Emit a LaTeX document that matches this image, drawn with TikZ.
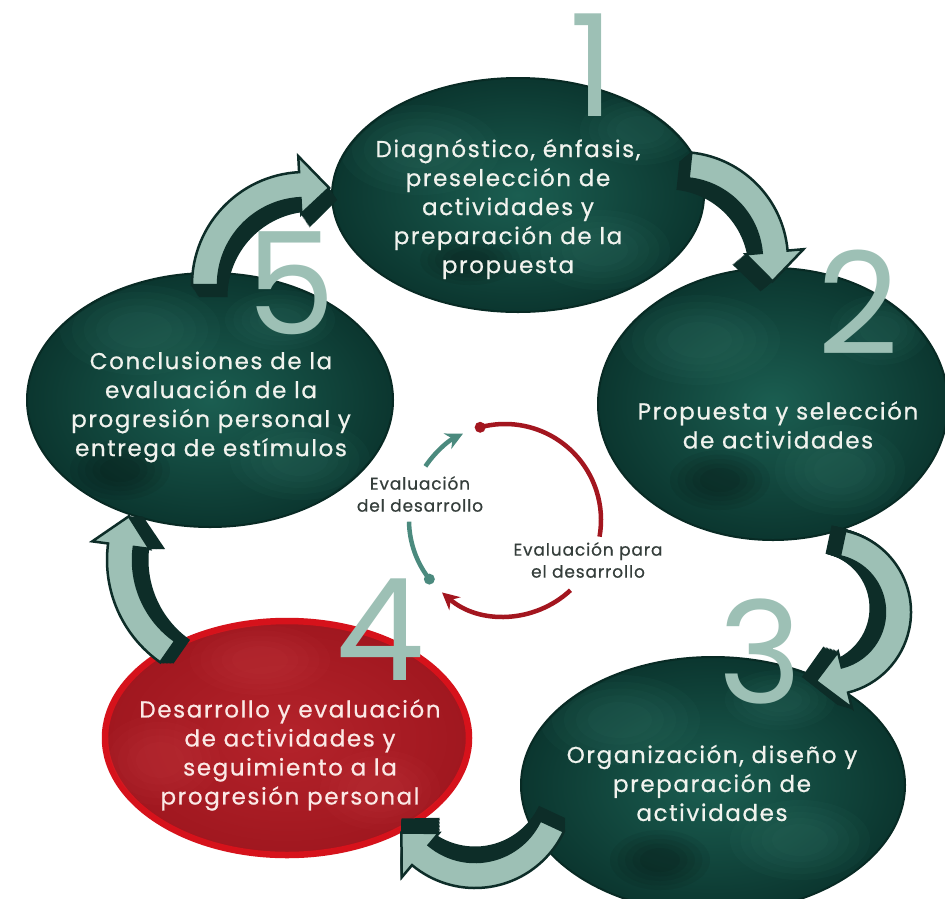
\documentclass[tikz,border=0pt]{standalone}
\usepackage{fontspec}
\setmainfont{Poppins}
\newfontfamily\etfont{Poppins}[LetterSpace=7,FakeBold=0.7]
\newfontfamily\lbfont{Poppins}[LetterSpace=5,FakeBold=0.6]
\usetikzlibrary{shapes.geometric,arrows.meta,calc}
\definecolor{tealin}{HTML}{1B5E51}
\definecolor{tealout}{HTML}{0B362F}
\definecolor{tealrim}{HTML}{082A24}
\definecolor{teallt}{HTML}{3E8576}
\definecolor{sage}{HTML}{9DC0B5}
\definecolor{arrdark}{HTML}{0D2D28}
\definecolor{redbr}{HTML}{D6121B}
\definecolor{redin}{HTML}{B4232B}
\definecolor{redout}{HTML}{A0171F}
\definecolor{redlt}{HTML}{D0484C}
\definecolor{arcred}{HTML}{A3161F}
\definecolor{arcteal}{HTML}{4B8A7E}
\definecolor{lblgray}{HTML}{353E3B}
\definecolor{txtw}{HTML}{F1F3EE}
\definecolor{txtp}{HTML}{FBE9E6}
\newcommand\cvpath[6]{(#2:{#1+#5/2}) arc[start angle=#2,end angle=#3,radius={#1+#5/2}] -- (#3:{#1+#6/2}) -- (#4:#1) -- (#3:{#1-#6/2}) -- (#3:{#1-#5/2}) arc[start angle=#3,end angle=#2,radius={#1-#5/2}] -- cycle}
% cx cy r a1 ah a2 dx dy
\newcommand\cvarrow[8]{%
  \foreach \tt in {0.1,0.2,...,1.0}{%
    \begin{scope}[shift={({#1+\tt*#7},{#2+\tt*#8})}]
      \fill[arrdark] \cvpath{#3}{#4}{#5}{#6}{29}{61};
    \end{scope}}
  \begin{scope}[shift={(#1,#2)}]
    \filldraw[fill=sage,draw=arrdark,line width=2.5pt,line join=miter] \cvpath{#3}{#4}{#5}{#6}{26}{58};
  \end{scope}}
\newcommand\blob[5]{%
  \foreach \ss in {1,0.85,0.7,0.55,0.4}{\fill[#5,opacity=.06] (#1,#2) ellipse[x radius={#3*\ss}, y radius={#4*\ss}];}}
\tikzset{
  gell/.style={ellipse,inner sep=0pt,shade,inner color=tealin,outer color=tealout,draw=tealrim,line width=2pt},
  rell/.style={ellipse,inner sep=0pt,shade,inner color=redin,outer color=redout,draw=redbr,line width=6.5pt},
  etext/.style={align=center,text=txtw,font=\etfont\fontsize{23}{29}\selectfont,inner sep=0pt},
  num/.style={text=sage,font=\fontsize{142}{142}\selectfont,inner sep=0pt},
  lbl/.style={align=center,text=lblgray,font=\lbfont\fontsize{17}{22}\selectfont,inner sep=0pt},
  arcline/.style={line width=4.5pt}
}
\begin{document}
\begin{tikzpicture}[x=1pt,y=1pt]
\useasboundingbox (0,0) rectangle (945,-898);
\fill[white] (0,0) rectangle (945,-898);
\clip (0,0) rectangle (945,-898);

% ellipses
\node[gell,minimum width=372pt,minimum height=234pt] (e1) at (518,-195) {};
\node[gell,minimum width=350pt,minimum height=272pt] (e2) at (773,-404) {};
\node[gell,minimum width=384pt,minimum height=256pt] (e3) at (713,-785) {};
\node[rell,minimum width=364pt,minimum height=234pt] (e4) at (287,-738) {};
\node[gell,minimum width=366pt,minimum height=254pt] (e5) at (210,-400) {};

% textures
\begin{scope}
\clip (518,-195) ellipse[x radius=184, y radius=115];
\blob{420}{-150}{80}{45}{teallt}\blob{600}{-250}{70}{40}{teallt}\blob{470}{-260}{50}{25}{black}\blob{640}{-130}{60}{35}{teallt}
\end{scope}
\begin{scope}
\clip (773,-404) ellipse[x radius=173, y radius=134];
\blob{700}{-340}{80}{45}{teallt}\blob{840}{-470}{65}{45}{teallt}\blob{720}{-480}{50}{30}{black}\blob{880}{-330}{50}{35}{teallt}
\end{scope}
\begin{scope}
\clip (713,-785) ellipse[x radius=190, y radius=126];
\blob{620}{-720}{80}{45}{teallt}\blob{800}{-840}{70}{40}{teallt}\blob{660}{-860}{50}{30}{black}\blob{780}{-700}{55}{30}{teallt}
\end{scope}
\begin{scope}
\clip (287,-738) ellipse[x radius=180, y radius=115];
\blob{260}{-660}{70}{35}{redlt}\blob{160}{-760}{60}{45}{redlt}\blob{380}{-790}{60}{40}{redlt}
\end{scope}
\begin{scope}
\clip (210,-400) ellipse[x radius=181, y radius=125];
\blob{140}{-330}{80}{45}{teallt}\blob{300}{-460}{70}{40}{teallt}\blob{120}{-470}{50}{30}{black}\blob{280}{-320}{55}{30}{teallt}
\end{scope}

% numbers
\node[num] (n1) at (592,-65) {1};
\node[num] (n2) at (858,-302) {2};
\node[num] (n3) at (760,-652) {3};
\node[num] (n4) at (380,-630) {4};
\node[num] (n5) at (291,-283) {5};

% big curved arrows
\cvarrow{680}{-260}{95}{84}{5}{-13}{-12}{-10}
\cvarrow{828}{-612}{70}{78}{-76}{-100}{-14}{4}
\cvarrow{475}{-790}{85}{-25}{-130}{-150}{0}{14}
\cvarrow{232}{-560}{112}{-125}{-187.6}{-203}{14}{0}
\cvarrow{305}{-285}{100}{-180}{-267}{-284}{8}{-12}

% ellipse texts
\node[etext] (t1) at (508,-209) {Diagnóstico, énfasis,\\preselección de\\actividades y\\preparación de la\\propuesta};
\node[etext] (t2) at (778,-425) {Propuesta y selección\\de actividades};
\node[etext] (t3) at (712,-783) {Organización, diseño y\\preparación de\\actividades};
\node[etext,text=txtp] (t4) at (290,-755) {Desarrollo y evaluación\\de actividades y\\seguimiento a la\\progresión personal};
\node[etext] (t5) at (211,-407) {Conclusiones de la\\evaluación de la\\progresión personal y\\entrega de estímulos};

% central cycle
\coordinate (cc) at (505,-520);
\draw[arcline,arcred] (cc) ++(105:96) arc[start angle=105,end angle=-10,radius=96];
\fill[arcred] (cc) ++(105:96) circle[radius=5.5];
\draw[arcline,arcred,-{Stealth[length=17pt,width=17pt]}] (cc) ++(-47:96) arc[start angle=-47,end angle=-131,radius=96];
\draw[arcline,arcteal] (cc) ++(-142:96) arc[start angle=-142,end angle=-179,radius=96];
\fill[arcteal] (cc) ++(-142:96) circle[radius=5.5];
\draw[arcline,arcteal,-{Stealth[length=17pt,width=17pt]}] (cc) ++(146:96) arc[start angle=146,end angle=116,radius=96];
\node[lbl] (l1) at (420,-494) {Evaluación\\del desarrollo};
\node[lbl] (l2) at (588,-560) {Evaluación para\\el desarrollo};
\end{tikzpicture}
\end{document}
